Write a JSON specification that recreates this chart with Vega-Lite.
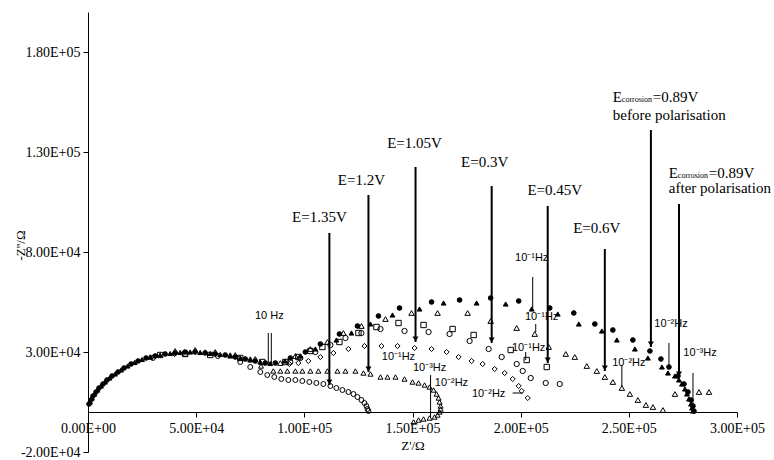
{
  "$schema": "https://vega.github.io/schema/vega-lite/v6.json",
  "width": 649,
  "height": 440,
  "autosize": {"type": "none"},
  "padding": {"left": 88, "top": 12, "right": 37, "bottom": 8},
  "background": "white",
  "config": {
    "view": {"stroke": null},
    "axis": {
      "grid": false,
      "domainColor": "black",
      "tickColor": "black",
      "labelColor": "black",
      "titleColor": "black",
      "labelFont": "Liberation Serif",
      "titleFont": "Liberation Serif",
      "titleFontWeight": "normal",
      "labelFontSize": 14,
      "titleFontSize": 13,
      "tickSize": 5,
      "domainWidth": 1,
      "labelFlush": false,
      "labelOverlap": false
    }
  },
  "datasets": {
    "pts": [
      {"s":"before","x":463,"y":4000},{"s":"before","x":1390,"y":6000},{"s":"before","x":2315,"y":8000},{"s":"before","x":3700,"y":10000},{"s":"before","x":5090,"y":12000},{"s":"before","x":6945,"y":14000},{"s":"before","x":8800,"y":16000},{"s":"before","x":11110,"y":18000},{"s":"before","x":13890,"y":20000},{"s":"before","x":16670,"y":22000},{"s":"before","x":19900,"y":24000},{"s":"before","x":23150,"y":25500},{"s":"before","x":26850,"y":27000},{"s":"before","x":31000,"y":28000},{"s":"before","x":35650,"y":29000},{"s":"before","x":40280,"y":29500},{"s":"before","x":44900,"y":30000},{"s":"before","x":49540,"y":30000},{"s":"before","x":54170,"y":29500},{"s":"before","x":58800,"y":29000},{"s":"before","x":63430,"y":28500},{"s":"before","x":68060,"y":27500},{"s":"before","x":72690,"y":26500},{"s":"before","x":77300,"y":25500},{"s":"before","x":81950,"y":24500},
      {"s":"before","x":86580,"y":24500},{"s":"before","x":93530,"y":27000},{"s":"before","x":100470,"y":30000},{"s":"before","x":107420,"y":34000},{"s":"before","x":116210,"y":39000},{"s":"before","x":124550,"y":43000},{"s":"before","x":134270,"y":48000},{"s":"before","x":143990,"y":52000},{"s":"before","x":158810,"y":55000},{"s":"before","x":171770,"y":56000},{"s":"before","x":186130,"y":57000},{"s":"before","x":199090,"y":55500},{"s":"before","x":213440,"y":52000},{"s":"before","x":224560,"y":49500},{"s":"before","x":234280,"y":44000},{"s":"before","x":242610,"y":41000},{"s":"before","x":251870,"y":36000},{"s":"before","x":259740,"y":30500},{"s":"before","x":264840,"y":26500},{"s":"before","x":268540,"y":22500},{"s":"before","x":272710,"y":18000},{"s":"before","x":275490,"y":14000},{"s":"before","x":277340,"y":10000},{"s":"before","x":278730,"y":6000},{"s":"before","x":279650,"y":3000},{"s":"before","x":280120,"y":500},
      {"s":"after","x":926,"y":5000},{"s":"after","x":1850,"y":7000},{"s":"after","x":3010,"y":9000},{"s":"after","x":4400,"y":11000},{"s":"after","x":6020,"y":13000},{"s":"after","x":7870,"y":15000},{"s":"after","x":9950,"y":17000},{"s":"after","x":12500,"y":19000},{"s":"after","x":15280,"y":21000},{"s":"after","x":18290,"y":23000},{"s":"after","x":21530,"y":24750},{"s":"after","x":25000,"y":26250},{"s":"after","x":28940,"y":27500},{"s":"after","x":33340,"y":28500},{"s":"after","x":37970,"y":29250},{"s":"after","x":42600,"y":29750},{"s":"after","x":47230,"y":30000},{"s":"after","x":51860,"y":29750},{"s":"after","x":56490,"y":29250},{"s":"after","x":61120,"y":28750},{"s":"after","x":65750,"y":28000},{"s":"after","x":70380,"y":27000},{"s":"after","x":75010,"y":26000},{"s":"after","x":79640,"y":25000},{"s":"after","x":84270,"y":24250},
      {"s":"after","x":91000,"y":25500},{"s":"after","x":98160,"y":28000},{"s":"after","x":105100,"y":31500},{"s":"after","x":114820,"y":36000},{"s":"after","x":121770,"y":39500},{"s":"after","x":130570,"y":44000},{"s":"after","x":140750,"y":48500},{"s":"after","x":153250,"y":51500},{"s":"after","x":164370,"y":54500},{"s":"after","x":179640,"y":54500},{"s":"after","x":193070,"y":54000},{"s":"after","x":205110,"y":51500},{"s":"after","x":217150,"y":49000},{"s":"after","x":226870,"y":44000},{"s":"after","x":237520,"y":40500},{"s":"after","x":244460,"y":36000},{"s":"after","x":252800,"y":31500},{"s":"after","x":258820,"y":27000},{"s":"after","x":265300,"y":22500},{"s":"after","x":268080,"y":19500},{"s":"after","x":271320,"y":18000},{"s":"after","x":273170,"y":16000},{"s":"after","x":274560,"y":14000},{"s":"after","x":275950,"y":11500},{"s":"after","x":276870,"y":9000},{"s":"after","x":277800,"y":6500},{"s":"after","x":278730,"y":4000},{"s":"after","x":279190,"y":2000},{"s":"after","x":279650,"y":500},
      {"s":"1.35","x":30000,"y":27000},{"s":"1.35","x":45000,"y":29000},{"s":"1.35","x":60000,"y":28000},{"s":"1.35","x":70380,"y":25000},{"s":"1.35","x":75000,"y":22500},{"s":"1.35","x":79640,"y":20000},{"s":"1.35","x":82880,"y":18500},{"s":"1.35","x":86120,"y":17500},{"s":"1.35","x":89360,"y":16500},{"s":"1.35","x":92600,"y":16000},{"s":"1.35","x":95840,"y":16000},{"s":"1.35","x":99080,"y":15500},{"s":"1.35","x":102320,"y":15000},{"s":"1.35","x":105560,"y":14500},{"s":"1.35","x":108800,"y":14000},{"s":"1.35","x":112050,"y":13000},{"s":"1.35","x":114820,"y":12000},{"s":"1.35","x":117600,"y":11000},{"s":"1.35","x":120380,"y":10000},{"s":"1.35","x":122700,"y":9000},{"s":"1.35","x":124550,"y":7500},{"s":"1.35","x":126400,"y":6000},{"s":"1.35","x":127790,"y":4500},{"s":"1.35","x":128710,"y":3000},{"s":"1.35","x":129180,"y":1500},{"s":"1.35","x":129640,"y":500},
      {"s":"1.2","x":28700,"y":27500},{"s":"1.2","x":54170,"y":30000},{"s":"1.2","x":65750,"y":28500},{"s":"1.2","x":75000,"y":26500},{"s":"1.2","x":80000,"y":23000},{"s":"1.2","x":85655,"y":20500},{"s":"1.2","x":88900,"y":20500},{"s":"1.2","x":92140,"y":20500},{"s":"1.2","x":95840,"y":20500},{"s":"1.2","x":99080,"y":20500},{"s":"1.2","x":102790,"y":20500},{"s":"1.2","x":106490,"y":20500},{"s":"1.2","x":110660,"y":20500},{"s":"1.2","x":115290,"y":20500},{"s":"1.2","x":118990,"y":20500},{"s":"1.2","x":123620,"y":20500},{"s":"1.2","x":127325,"y":19500},{"s":"1.2","x":130570,"y":19000},{"s":"1.2","x":135200,"y":17500},{"s":"1.2","x":138440,"y":17500},{"s":"1.2","x":142140,"y":17500},{"s":"1.2","x":146310,"y":16500},{"s":"1.2","x":150010,"y":15000},{"s":"1.2","x":152790,"y":14500},{"s":"1.2","x":155570,"y":13500},{"s":"1.2","x":157880,"y":12500},{"s":"1.2","x":159740,"y":11000},{"s":"1.2","x":161120,"y":9000},{"s":"1.2","x":162050,"y":7000},{"s":"1.2","x":162510,"y":5000},{"s":"1.2","x":162980,"y":3000},{"s":"1.2","x":162980,"y":1500},{"s":"1.2","x":162510,"y":0},{"s":"1.2","x":161590,"y":-1500},{"s":"1.2","x":160200,"y":-2500},{"s":"1.2","x":157880,"y":-3000},{"s":"1.2","x":155100,"y":-3500},{"s":"1.2","x":152790,"y":-4000},{"s":"1.2","x":150480,"y":-5000},
      {"s":"1.05","x":40000,"y":29000},{"s":"1.05","x":70000,"y":27000},{"s":"1.05","x":93060,"y":24000},{"s":"1.05","x":97230,"y":24500},{"s":"1.05","x":101860,"y":25500},{"s":"1.05","x":107420,"y":27500},{"s":"1.05","x":113430,"y":29500},{"s":"1.05","x":120380,"y":31500},{"s":"1.05","x":127790,"y":33000},{"s":"1.05","x":135660,"y":33000},{"s":"1.05","x":143070,"y":33000},{"s":"1.05","x":150940,"y":32000},{"s":"1.05","x":158810,"y":31500},{"s":"1.05","x":165750,"y":30000},{"s":"1.05","x":171310,"y":27500},{"s":"1.05","x":177330,"y":25500},{"s":"1.05","x":182420,"y":24000},{"s":"1.05","x":187980,"y":21500},{"s":"1.05","x":192610,"y":19500},{"s":"1.05","x":196310,"y":16500},{"s":"1.05","x":199090,"y":13000},{"s":"1.05","x":200480,"y":10500},{"s":"1.05","x":203260,"y":7000},
      {"s":"0.3","x":93530,"y":25000},{"s":"0.3","x":98160,"y":27000},{"s":"0.3","x":105100,"y":30000},{"s":"0.3","x":112050,"y":33500},{"s":"0.3","x":119000,"y":37000},{"s":"0.3","x":126400,"y":39500},{"s":"0.3","x":135200,"y":41500},{"s":"0.3","x":146310,"y":40500},{"s":"0.3","x":157420,"y":40000},{"s":"0.3","x":167140,"y":39000},{"s":"0.3","x":176400,"y":35500},{"s":"0.3","x":185200,"y":31500},{"s":"0.3","x":191220,"y":27500},{"s":"0.3","x":198160,"y":24000},{"s":"0.3","x":200940,"y":20500},{"s":"0.3","x":204650,"y":17000},{"s":"0.3","x":211590,"y":14500},{"s":"0.3","x":218070,"y":14000},
      {"s":"0.45","x":33340,"y":28500},{"s":"0.45","x":44900,"y":29000},{"s":"0.45","x":56490,"y":28500},{"s":"0.45","x":70380,"y":27000},{"s":"0.45","x":80560,"y":25000},{"s":"0.45","x":91200,"y":25000},{"s":"0.45","x":97230,"y":27500},{"s":"0.45","x":102800,"y":30500},{"s":"0.45","x":108340,"y":32500},{"s":"0.45","x":116210,"y":35000},{"s":"0.45","x":125010,"y":39500},{"s":"0.45","x":133340,"y":42500},{"s":"0.45","x":143530,"y":44500},{"s":"0.45","x":155100,"y":43500},{"s":"0.45","x":168530,"y":41500},{"s":"0.45","x":178260,"y":38500},{"s":"0.45","x":195390,"y":31000},{"s":"0.45","x":202790,"y":26000},{"s":"0.45","x":212050,"y":22500},
      {"s":"0.6","x":40280,"y":30500},{"s":"0.6","x":49540,"y":31000},{"s":"0.6","x":58800,"y":30000},{"s":"0.6","x":68060,"y":28500},{"s":"0.6","x":77320,"y":26500},{"s":"0.6","x":88900,"y":24500},{"s":"0.6","x":95840,"y":28000},{"s":"0.6","x":102790,"y":31500},{"s":"0.6","x":110660,"y":35000},{"s":"0.6","x":118070,"y":39500},{"s":"0.6","x":126400,"y":43000},{"s":"0.6","x":137510,"y":46500},{"s":"0.6","x":149550,"y":49500},{"s":"0.6","x":161590,"y":49500},{"s":"0.6","x":175480,"y":49500},{"s":"0.6","x":186130,"y":45500},{"s":"0.6","x":198160,"y":42000},{"s":"0.6","x":206500,"y":39000},{"s":"0.6","x":212980,"y":32500},{"s":"0.6","x":220850,"y":29000},{"s":"0.6","x":225020,"y":27500},{"s":"0.6","x":230570,"y":23000},{"s":"0.6","x":235200,"y":20500},{"s":"0.6","x":238910,"y":17500},{"s":"0.6","x":242610,"y":15000},{"s":"0.6","x":246780,"y":12000},{"s":"0.6","x":250480,"y":9000},{"s":"0.6","x":254190,"y":6000},{"s":"0.6","x":257890,"y":3500},{"s":"0.6","x":261130,"y":2500},{"s":"0.6","x":265760,"y":1000},{"s":"0.6","x":271320,"y":9000},{"s":"0.6","x":282430,"y":10000},{"s":"0.6","x":287060,"y":10000}
    ],
    "arrows": [
      {"x":111580,"top":89500,"tip":13500},
      {"x":129640,"top":108500,"tip":20000},
      {"x":151400,"top":122500,"tip":35000},
      {"x":186600,"top":113000,"tip":34500},
      {"x":212500,"top":103000,"tip":24500},
      {"x":238900,"top":81500,"tip":20500},
      {"x":260200,"top":141000,"tip":32500},
      {"x":273200,"top":104000,"tip":17500}
    ],
    "elabels": [
      {"label":"E=1.35V","x":106950,"y":97500},
      {"label":"E=1.2V","x":126400,"y":116000},
      {"label":"E=1.05V","x":150940,"y":134500},
      {"label":"E=0.3V","x":183350,"y":125000},
      {"label":"E=0.45V","x":215760,"y":111000},
      {"label":"E=0.6V","x":235200,"y":92000}
    ],
    "corr": [
      {"x":242600,"y":157500,"y2":148500,"note":"before polarisation"},
      {"x":268500,"y":119500,"y2":112000,"note":"after polarisation"}
    ],
    "freq": [
      {"t":"10 Hz","x":83800,"y":48000},
      {"t":"10⁻¹Hz","x":143500,"y":27500},
      {"t":"10⁻³Hz","x":157900,"y":22000},
      {"t":"10⁻²Hz","x":168000,"y":14500},
      {"t":"10⁻²Hz","x":185200,"y":9000},
      {"t":"10⁻¹Hz","x":205100,"y":77000},
      {"t":"10⁻¹Hz","x":209700,"y":47500},
      {"t":"10⁻¹Hz","x":203700,"y":32000},
      {"t":"10⁻²Hz","x":250000,"y":24500},
      {"t":"10⁻²Hz","x":269500,"y":44000},
      {"t":"10⁻³Hz","x":282900,"y":29500}
    ],
    "lead": [
      {"x":83340,"y":39500,"y2":23500},
      {"x":84730,"y":39500,"y2":23500},
      {"x":158350,"y":18500,"y2":-3000},
      {"x":205570,"y":67500,"y2":52000},
      {"x":206960,"y":44000,"y2":40000},
      {"x":202330,"y":30000,"y2":26000},
      {"x":246780,"y":23500,"y2":12500},
      {"x":268540,"y":34500,"y2":23500},
      {"x":279650,"y":19500,"y2":-500}
    ],
    "hlead": [
      {"x":196300,"x2":200900,"y":9500}
    ]
  },
  "encoding": {
    "x": {
      "field": "x",
      "type": "quantitative",
      "scale": {"domain": [0, 300000], "nice": false, "zero": false},
      "axis": {
        "orient": "bottom",
        "offset": -40,
        "values": [0, 50000, 100000, 150000, 200000, 250000, 300000],
        "labelExpr": "replace(upper(replace(format(datum.value, '.2e'), 'e+', 'e+0')), '−', '-')",
        "title": "Z'/Ω",
        "labelPadding": 4,
        "titlePadding": 4
      }
    },
    "y": {
      "field": "y",
      "type": "quantitative",
      "scale": {"domain": [-20000, 200000], "nice": false, "zero": false},
      "axis": {
        "values": [-20000, 30000, 80000, 130000, 180000],
        "labelExpr": "replace(upper(replace(format(datum.value, '.2e'), 'e+', 'e+0')), '−', '-')",
        "title": "-Z''/Ω",
        "labelPadding": 3,
        "titleX": -68,
        "titleY": 233,
        "titleAngle": -90,
        "titleAlign": "center",
        "titleBaseline": "middle"
      }
    }
  },
  "layer": [
    {
      "data": {"name": "pts"},
      "mark": {"type": "point", "stroke": "black", "strokeWidth": 1, "opacity": 1},
      "encoding": {
        "shape": {"field": "s", "type": "nominal", "legend": null,
          "scale": {"domain": ["before","after","1.35","1.2","1.05","0.3","0.45","0.6"],
                    "range": ["circle","triangle-up","circle","triangle-up","diamond","circle","square","triangle-up"]}},
        "fill": {"field": "s", "type": "nominal", "legend": null,
          "scale": {"domain": ["before","after","1.35","1.2","1.05","0.3","0.45","0.6"],
                    "range": ["black","black","transparent","transparent","transparent","transparent","transparent","transparent"]}},
        "size": {"field": "s", "type": "nominal", "legend": null,
          "scale": {"domain": ["before","after","1.35","1.2","1.05","0.3","0.45","0.6"],
                    "range": [22, 30, 16, 32, 28, 20, 22, 32]}}
      }
    },
    {
      "data": {"name": "arrows"},
      "mark": {"type": "rule", "color": "black", "strokeWidth": 2},
      "encoding": {"y": {"field": "top", "type": "quantitative"}, "y2": {"field": "tip"}}
    },
    {
      "data": {"name": "arrows"},
      "mark": {"type": "point", "shape": "triangle-down", "filled": true, "color": "black", "size": 36, "opacity": 1, "yOffset": -3},
      "encoding": {"y": {"field": "tip", "type": "quantitative"}}
    },
    {
      "data": {"name": "elabels"},
      "mark": {"type": "text", "font": "Liberation Serif", "fontSize": 15, "color": "black", "align": "center", "baseline": "middle"},
      "encoding": {"text": {"field": "label"}}
    },
    {
      "data": {"name": "corr"},
      "mark": {"type": "text", "font": "Liberation Serif", "fontSize": 15, "color": "black", "align": "left", "baseline": "middle"},
      "encoding": {"text": {"value": "E"}}
    },
    {
      "data": {"name": "corr"},
      "mark": {"type": "text", "font": "Liberation Serif", "fontSize": 8, "color": "black", "align": "left", "baseline": "middle", "dx": 9, "dy": 3},
      "encoding": {"text": {"value": "corrosion"}}
    },
    {
      "data": {"name": "corr"},
      "mark": {"type": "text", "font": "Liberation Serif", "fontSize": 15, "color": "black", "align": "left", "baseline": "middle", "dx": 40},
      "encoding": {"text": {"value": "=0.89V"}}
    },
    {
      "data": {"name": "corr"},
      "mark": {"type": "text", "font": "Liberation Serif", "fontSize": 15, "color": "black", "align": "left", "baseline": "middle"},
      "encoding": {"y": {"field": "y2", "type": "quantitative"}, "text": {"field": "note"}}
    },
    {
      "data": {"name": "lead"},
      "mark": {"type": "rule", "color": "black", "strokeWidth": 1},
      "encoding": {"y2": {"field": "y2"}}
    },
    {
      "data": {"name": "hlead"},
      "mark": {"type": "rule", "color": "black", "strokeWidth": 1},
      "encoding": {"x2": {"field": "x2"}}
    },
    {
      "data": {"name": "freq"},
      "mark": {"type": "text", "font": "Liberation Sans", "fontSize": 11, "color": "black", "align": "center", "baseline": "middle"},
      "encoding": {"text": {"field": "t"}}
    }
  ]
}
